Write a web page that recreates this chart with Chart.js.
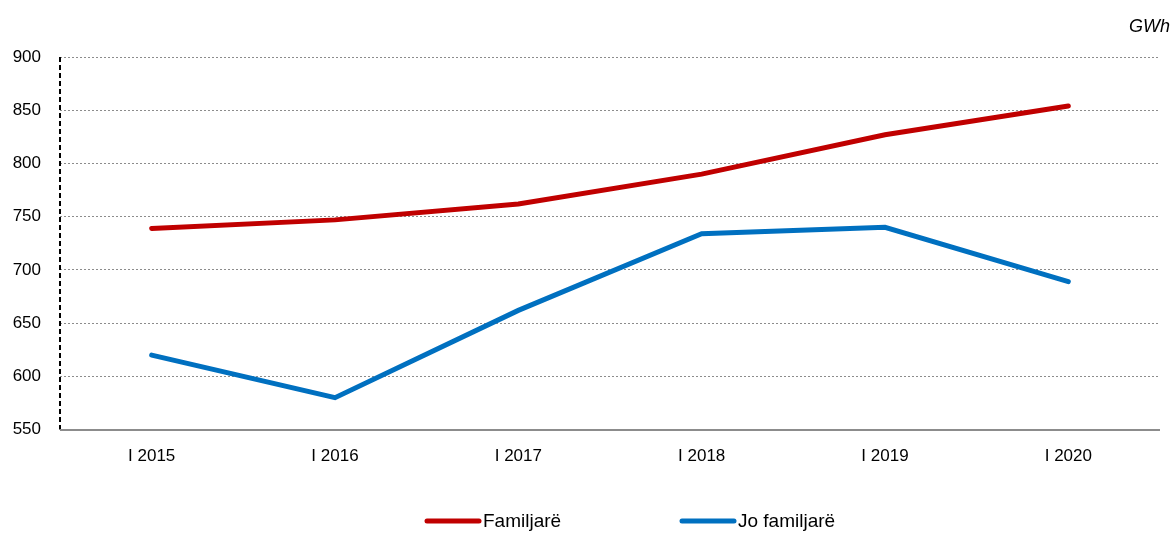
<!DOCTYPE html>
<html>
<head>
<meta charset="utf-8">
<script src="https://cdn.jsdelivr.net/npm/chart.js@4/dist/chart.umd.min.js"></script>
<style>
  body { margin: 0; background: #fff; }
  #wrap { width: 1173px; height: 533px; }
</style>
</head>
<body>
<div id="wrap"><canvas id="gwhChart"></canvas></div>
<script>
// data
var categories = ['I 2015', 'I 2016', 'I 2017', 'I 2018', 'I 2019', 'I 2020'];
var familiare = [739, 747, 762, 790, 827, 854];
var joFamiliare = [620, 580, 662, 734, 740, 689];

// axis lines, unit label and legend drawn by hand
var extras = {
    id: 'extras',
    afterDraw: function(chart) {
        var a = chart.chartArea, ctx = chart.ctx;
        ctx.save();
        ctx.lineWidth = 2;
        ctx.strokeStyle = '#000';
        ctx.setLineDash([5, 3]);
        ctx.beginPath();
        ctx.moveTo(a.left, a.top);
        ctx.lineTo(a.left, a.bottom);
        ctx.stroke();
        ctx.setLineDash([]);
        ctx.strokeStyle = '#8c8c8c';
        ctx.beginPath();
        ctx.moveTo(a.left, a.bottom + 0.5);
        ctx.lineTo(a.right, a.bottom + 0.5);
        ctx.stroke();

        // unit
        ctx.fillStyle = '#000';
        ctx.font = 'italic 18px "Liberation Sans"';
        ctx.textAlign = 'right';
        ctx.textBaseline = 'middle';
        ctx.fillText('GWh', 1170, 27);

        // legend
        ctx.font = '19px "Liberation Sans"';
        ctx.textAlign = 'left';
        ctx.lineWidth = 5;
        ctx.lineCap = 'round';
        var starts = [427, 682];
        chart.data.datasets.forEach(function(ds, i) {
            var x = starts[i], y = 521;
            ctx.strokeStyle = ds.borderColor;
            ctx.beginPath();
            ctx.moveTo(x, y);
            ctx.lineTo(x + 52, y);
            ctx.stroke();
            ctx.fillText(ds.label, x + 56, y + 1);
        });
        ctx.restore();
    }
};

var ctx = document.getElementById('gwhChart').getContext('2d');
var gwhChart = new Chart(ctx, {
    type: 'line',
    data: {
        labels: categories,
        datasets: [{
            label: 'Familjarë',
            data: familiare,
            borderColor: '#C00000',
            backgroundColor: '#C00000',
            borderWidth: 5,
            borderCapStyle: 'round',
            pointRadius: 0,
            tension: 0
        }, {
            label: 'Jo familjarë',
            data: joFamiliare,
            borderColor: '#0070C0',
            backgroundColor: '#0070C0',
            borderWidth: 5,
            borderCapStyle: 'round',
            pointRadius: 0,
            tension: 0
        }]
    },
    options: {
        responsive: true,
        maintainAspectRatio: false,
        animation: false,
        layout: { padding: { left: 0, right: 13, top: 57, bottom: 49 } },
        plugins: {
            legend: { display: false },
            tooltip: { enabled: false }
        },
        scales: {
            x: {
                offset: true,
                grid: { display: false, drawTicks: false },
                border: { display: false },
                ticks: {
                    color: '#000',
                    padding: 17,
                    font: { family: 'Liberation Sans', size: 17 }
                }
            },
            y: {
                min: 550,
                max: 900,
                afterFit: function(scale) { scale.width = 60; },
                grid: { color: '#8c8c8c', lineWidth: 1, drawTicks: false },
                border: { display: false, dash: [2, 2] },
                ticks: {
                    stepSize: 50,
                    color: '#000',
                    padding: 19,
                    font: { family: 'Liberation Sans', size: 17 }
                }
            }
        }
    },
    plugins: [extras]
});
</script>
</body>
</html>
